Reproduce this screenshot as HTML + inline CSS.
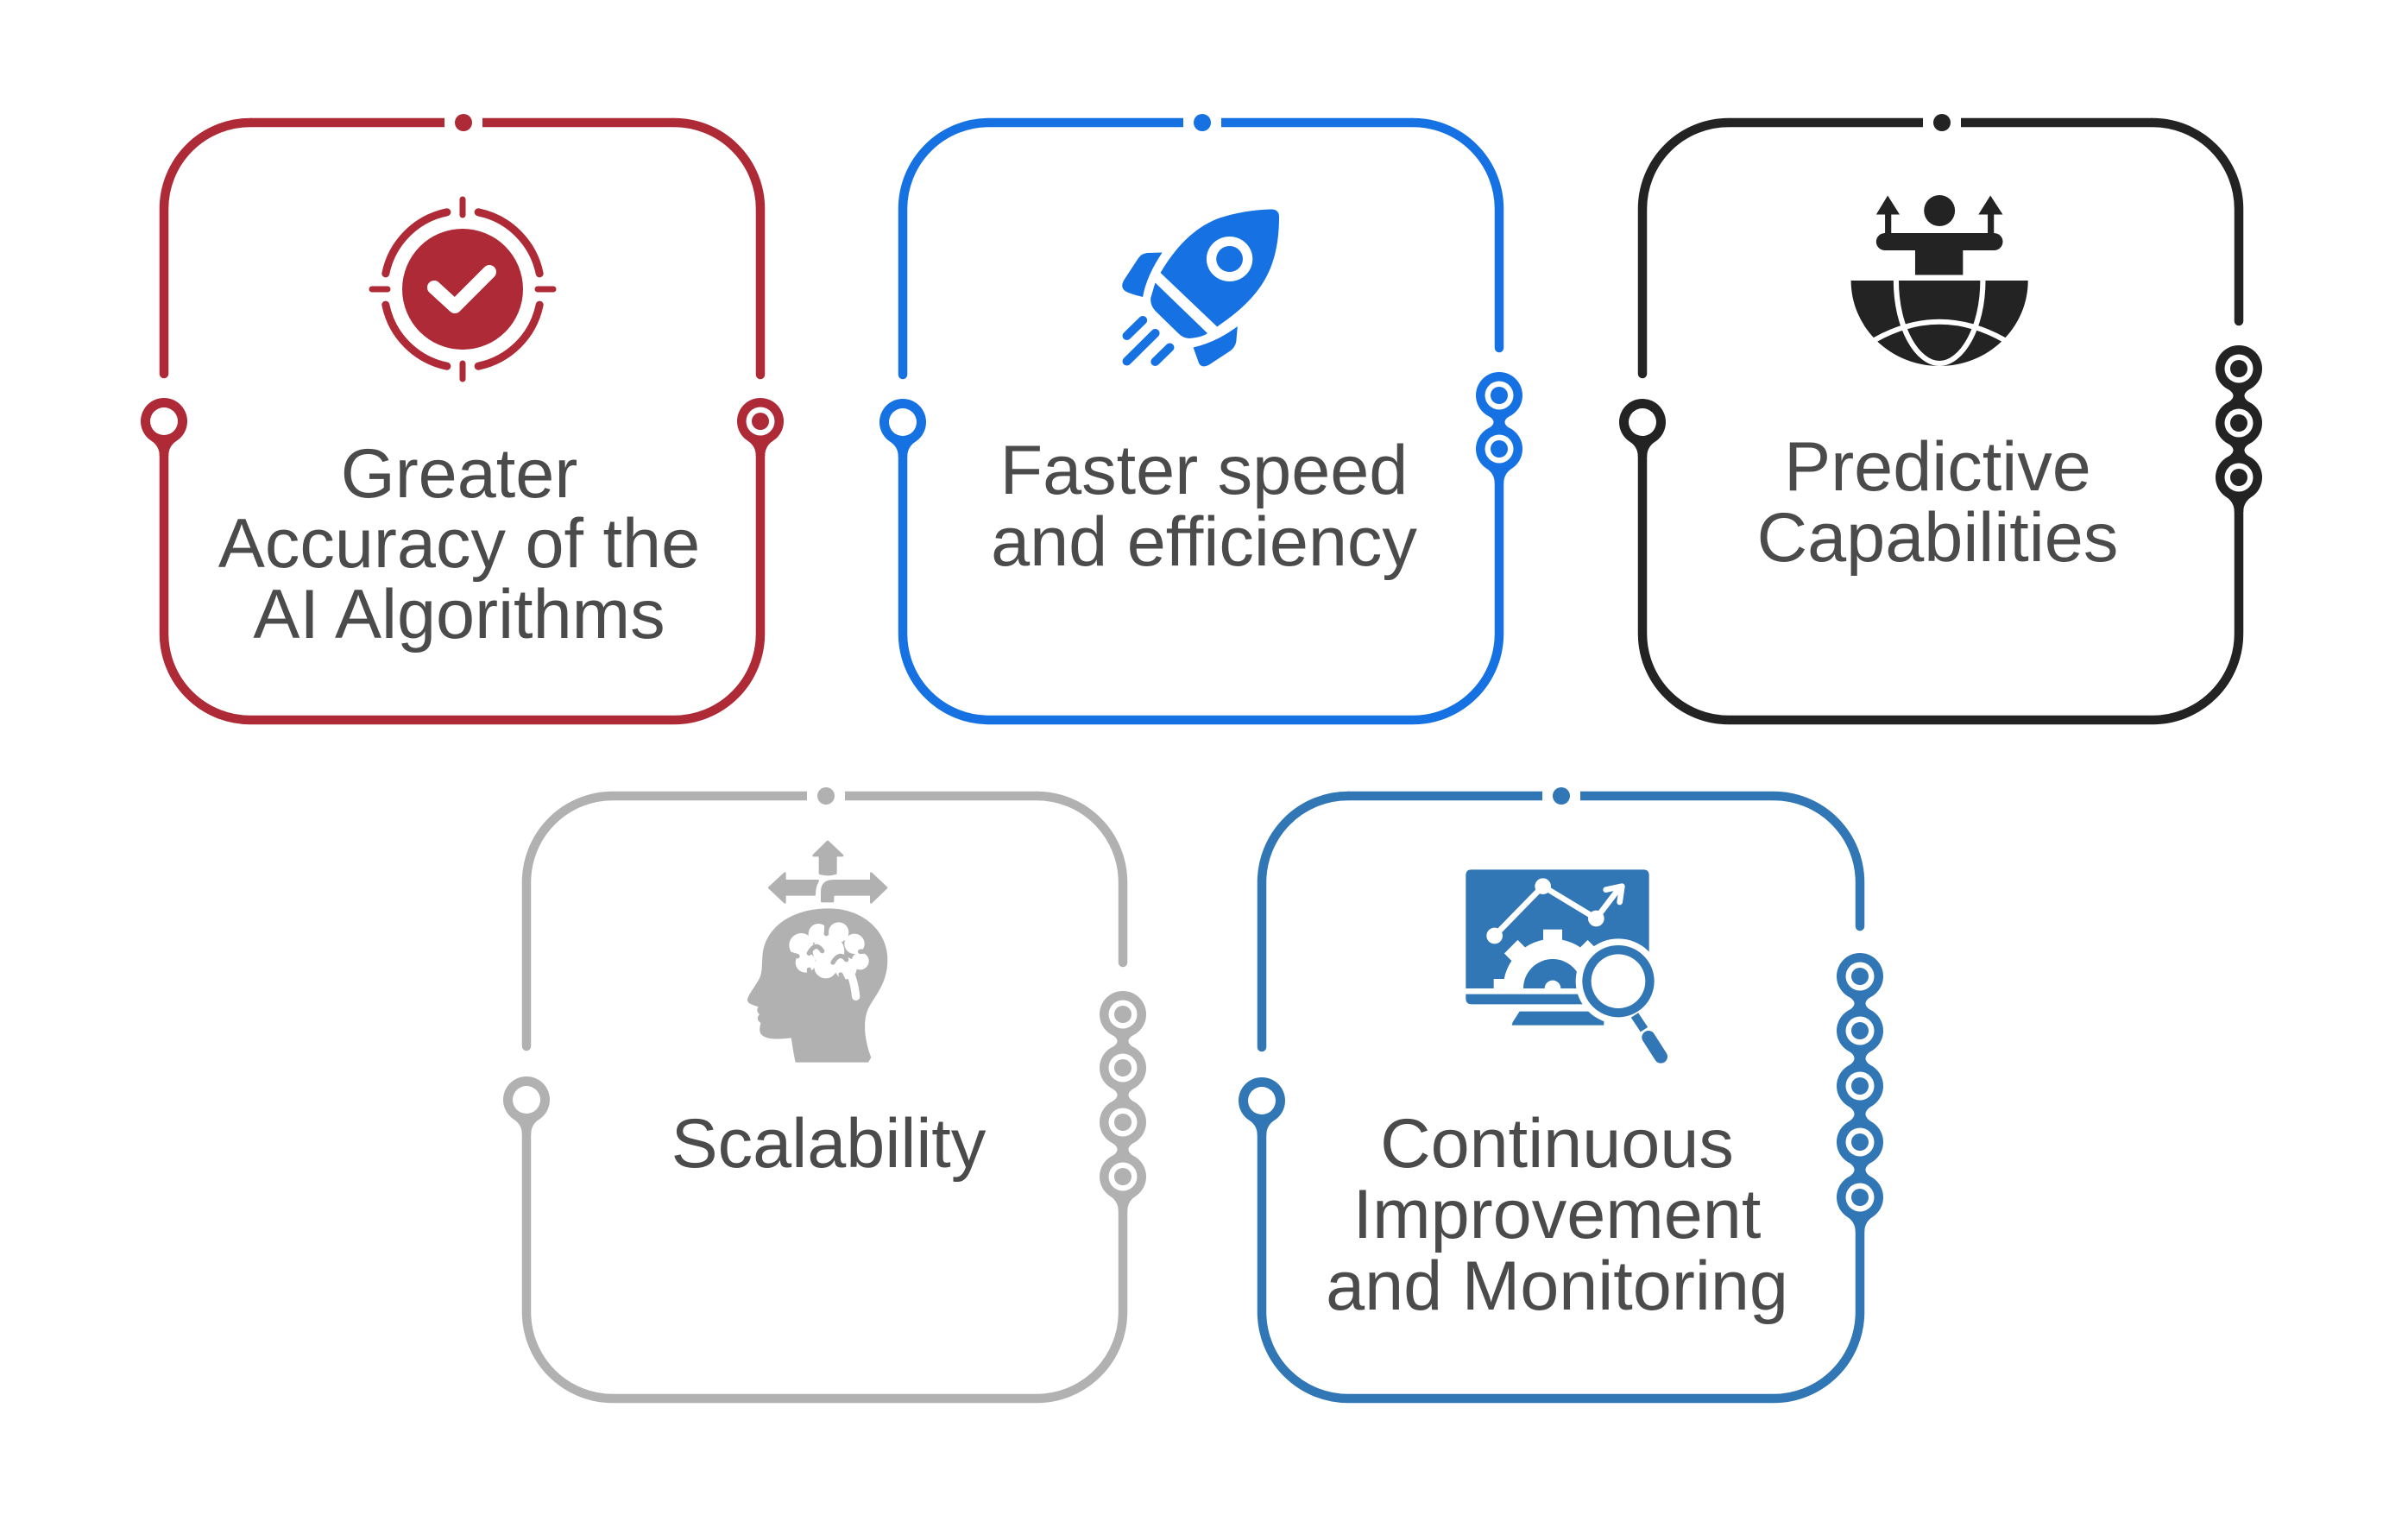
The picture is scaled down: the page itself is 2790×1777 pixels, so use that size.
<!DOCTYPE html>
<html>
<head>
<meta charset="utf-8">
<style>
  html, body { margin: 0; padding: 0; background: #ffffff; }
  body { width: 2790px; height: 1777px; overflow: hidden; }
  svg { display: block; }
  text { font-family: "Liberation Sans", "DejaVu Sans", sans-serif; font-size: 81px; fill: #4b4b4b; text-anchor: middle; }
</style>
</head>
<body>
<svg width="2790" height="1777" viewBox="0 0 2790 1777" xmlns="http://www.w3.org/2000/svg">
  <rect x="0" y="0" width="2790" height="1777" fill="#ffffff"/>

  <!-- ================= CARD 1 (red) ================= -->
  <g fill="none" stroke="#AE2A36" stroke-width="10.5">
    <path stroke-linecap="butt" d="M515,142H290M559,142H781"/>
    <path stroke-linecap="round" d="M290,142A100,100 0 0 0 190,242V433M781,142A100,100 0 0 1 881,242V434M881,488V734A100,100 0 0 1 781,834H290A100,100 0 0 1 190,734V488"/>
  </g>
  <g fill="#AE2A36">
    <circle cx="537" cy="142" r="10"/>
    <circle cx="190" cy="488" r="27"/>
    <path d="M175.5,510.8Q184.75,517 184.75,528H195.25Q195.25,517 204.5,510.8Z"/>
    <circle cx="881" cy="488" r="27"/>
    <path d="M866.5,510.8Q875.75,517 875.75,528H886.25Q886.25,517 895.5,510.8Z"/>
  </g>
  <circle cx="190" cy="488" r="16" fill="#fff"/>
  <circle cx="881" cy="488" r="16.5" fill="#fff"/>
  <circle cx="881" cy="488" r="10" fill="#AE2A36"/>
  <!-- icon 1 -->
  <circle cx="536" cy="335" r="70" fill="#AE2A36"/>
  <g fill="none" stroke="#AE2A36" stroke-width="9" stroke-linecap="round">
    <path d="M554.14,245.82A91,91 0 0 1 625.18,316.86"/>
    <path d="M625.18,353.14A91,91 0 0 1 554.14,424.18"/>
    <path d="M517.86,424.18A91,91 0 0 1 446.82,353.14"/>
    <path d="M446.82,316.86A91,91 0 0 1 517.86,245.82"/>
  </g>
  <g stroke="#AE2A36" stroke-width="7" stroke-linecap="round">
    <line x1="536" y1="231" x2="536" y2="249"/>
    <line x1="536" y1="421" x2="536" y2="439"/>
    <line x1="431" y1="335" x2="449" y2="335"/>
    <line x1="623" y1="335" x2="641" y2="335"/>
  </g>
  <polyline points="503,333 527,355 567,315" fill="none" stroke="#fff" stroke-width="16" stroke-linecap="round" stroke-linejoin="round"/>
  <text x="532" y="576">Greater</text>
  <text x="532" y="657">Accuracy of the</text>
  <text x="532" y="739">AI Algorithms</text>

  <!-- ================= CARD 2 (blue) ================= -->
  <g fill="none" stroke="#1671E3" stroke-width="10.5">
    <path stroke-linecap="butt" d="M1371,142H1146M1415,142H1637"/>
    <path stroke-linecap="round" d="M1146,142A100,100 0 0 0 1046,242V434M1637,142A100,100 0 0 1 1737,242V403M1737,520V734A100,100 0 0 1 1637,834H1146A100,100 0 0 1 1046,734V489"/>
  </g>
  <g fill="#1671E3">
    <circle cx="1393" cy="142" r="10"/>
    <circle cx="1046" cy="489" r="27"/>
    <path d="M1031.5,511.8Q1040.75,518 1040.75,529H1051.25Q1051.25,518 1060.5,511.8Z"/>
    <circle cx="1737" cy="458" r="27"/>
    <circle cx="1737" cy="520" r="27"/>
    <path d="M1721,479.75Q1740,489 1721,498.25H1753Q1734,489 1753,479.75Z"/>
    <path d="M1722.5,542.8Q1731.75,549 1731.75,560H1742.25Q1742.25,549 1751.5,542.8Z"/>
  </g>
  <circle cx="1046" cy="489" r="16" fill="#fff"/>
  <circle cx="1737" cy="458" r="16.5" fill="#fff"/>
  <circle cx="1737" cy="520" r="16.5" fill="#fff"/>
  <circle cx="1737" cy="458" r="10" fill="#1671E3"/>
  <circle cx="1737" cy="520" r="10" fill="#1671E3"/>
  <!-- icon 2 rocket -->
  <g transform="translate(1000,100) scale(0.5128,0.5)" fill="#1671E3">
    <path d="M672,432C705,375 745,330 800,307C850,289 900,285 925,285Q940,287 940,302C940,360 930,420 895,468C865,510 830,535 800,557Z"/>
    <ellipse cx="828" cy="400" rx="52" ry="52" fill="#fff"/>
    <ellipse cx="828" cy="400" rx="30" ry="30"/>
    <path d="M660,455L778,572Q768,581 737,584Q722,583 712,572L660,520Q648,506 650,490Z"/>
    <path d="M676,385L642,386Q630,387 622,398L590,448Q580,465 592,474Q600,480 632,488Q640,440 676,385Z"/>
    <path d="M846,556L843,592Q840,606 828,614L782,645Q766,654 759,642L746,605Q800,592 846,556Z"/>
    <path d="M596,578L632,542M596,637L660,572M660,638L693,605" fill="none" stroke="#1671E3" stroke-width="20" stroke-linecap="round"/>
  </g>
  <text x="1395" y="572">Faster speed</text>
  <text x="1395" y="655">and efficiency</text>

  <!-- ================= CARD 3 (black) ================= -->
  <g fill="none" stroke="#232323" stroke-width="10.5">
    <path stroke-linecap="butt" d="M2228,142H2003M2272,142H2494"/>
    <path stroke-linecap="round" d="M2003,142A100,100 0 0 0 1903,242V433M2494,142A100,100 0 0 1 2594,242V372M2594,553V734A100,100 0 0 1 2494,834H2003A100,100 0 0 1 1903,734V489"/>
  </g>
  <g fill="#232323">
    <circle cx="2250" cy="142" r="10"/>
    <circle cx="1903" cy="489" r="27"/>
    <path d="M1888.5,511.8Q1897.75,518 1897.75,529H1908.25Q1908.25,518 1917.5,511.8Z"/>
    <circle cx="2594" cy="427" r="27"/>
    <circle cx="2594" cy="490" r="27"/>
    <circle cx="2594" cy="553" r="27"/>
    <path d="M2578,448.75Q2597,458.5 2578,468.25H2610Q2591,458.5 2610,448.75Z"/>
    <path d="M2578,511.75Q2597,521.5 2578,531.25H2610Q2591,521.5 2610,511.75Z"/>
    <path d="M2579.5,575.8Q2588.75,582 2588.75,593H2599.25Q2599.25,582 2608.5,575.8Z"/>
  </g>
  <circle cx="1903" cy="489" r="16" fill="#fff"/>
  <g fill="#fff">
    <circle cx="2594" cy="427" r="16.5"/>
    <circle cx="2594" cy="490" r="16.5"/>
    <circle cx="2594" cy="553" r="16.5"/>
  </g>
  <g fill="#232323">
    <circle cx="2594" cy="427" r="10"/>
    <circle cx="2594" cy="490" r="10"/>
    <circle cx="2594" cy="553" r="10"/>
  </g>
  <!-- icon 3 -->
  <g transform="translate(1860,100) scale(0.5128,0.5)" fill="#232323">
    <ellipse cx="755" cy="288" rx="35" ry="36"/>
    <rect x="612" y="340" width="286" height="40" rx="20" ry="20"/>
    <rect x="700" y="375" width="108" height="62"/>
    <rect x="632" y="294" width="14" height="50"/>
    <polygon points="612,297 638,253 665,297"/>
    <rect x="864" y="294" width="14" height="50"/>
    <polygon points="843,297 870,253 898,297"/>
    <path d="M555,450H955A200,198 0 0 1 555,450Z"/>
    <path d="M657,450C657,560 705,642 755,642C805,642 853,560 853,450" fill="none" stroke="#fff" stroke-width="12"/>
    <path d="M608,588Q755,503 902,588" fill="none" stroke="#fff" stroke-width="12"/>
  </g>
  <text x="2245" y="568">Predictive</text>
  <text x="2245" y="650">Capabilities</text>

  <!-- ================= CARD 4 (gray) ================= -->
  <g fill="none" stroke="#B1B1B1" stroke-width="10.5">
    <path stroke-linecap="butt" d="M935,922H710M979,922H1201"/>
    <path stroke-linecap="round" d="M710,922A100,100 0 0 0 610,1022V1212M1201,922A100,100 0 0 1 1301,1022V1115M1301,1363V1520A100,100 0 0 1 1201,1620H710A100,100 0 0 1 610,1520V1274"/>
  </g>
  <g fill="#B1B1B1">
    <circle cx="957" cy="922" r="10"/>
    <circle cx="610" cy="1274" r="27"/>
    <path d="M595.5,1296.8Q604.75,1303 604.75,1314H615.25Q615.25,1303 624.5,1296.8Z"/>
    <circle cx="1301" cy="1175" r="27"/>
    <circle cx="1301" cy="1237" r="27"/>
    <circle cx="1301" cy="1300" r="27"/>
    <circle cx="1301" cy="1363" r="27"/>
    <path d="M1285,1196.75Q1304,1206 1285,1215.25H1317Q1298,1206 1317,1196.75Z"/>
    <path d="M1285,1258.75Q1304,1268.5 1285,1278.25H1317Q1298,1268.5 1317,1258.75Z"/>
    <path d="M1285,1321.75Q1304,1331.5 1285,1341.25H1317Q1298,1331.5 1317,1321.75Z"/>
    <path d="M1286.5,1385.8Q1295.75,1392 1295.75,1403H1306.25Q1306.25,1392 1315.5,1385.8Z"/>
  </g>
  <circle cx="610" cy="1274" r="16" fill="#fff"/>
  <g fill="#fff">
    <circle cx="1301" cy="1175" r="16.5"/>
    <circle cx="1301" cy="1237" r="16.5"/>
    <circle cx="1301" cy="1300" r="16.5"/>
    <circle cx="1301" cy="1363" r="16.5"/>
  </g>
  <g fill="#B1B1B1">
    <circle cx="1301" cy="1175" r="10"/>
    <circle cx="1301" cy="1237" r="10"/>
    <circle cx="1301" cy="1300" r="10"/>
    <circle cx="1301" cy="1363" r="10"/>
  </g>
  <!-- icon 4 head -->
  <g transform="translate(850,965) scale(0.33333)">
    <g fill="#B1B1B1" stroke="#B1B1B1" stroke-width="8" stroke-linejoin="round">
      <polygon points="278,78 327,30 378,78"/>
      <path d="M300,76H355V140Q330,148 300,140Z"/>
      <polygon points="124,190 178,140 178,241"/>
      <path d="M178,166H293Q281,186 281,214H178Z"/>
      <polygon points="531,190 478,140 478,241"/>
      <path d="M307,237V204Q307,166 348,166H478V214H352Q345,214 345,222V237Z"/>
    </g>
    <path fill="#B1B1B1" d="M100,430C105,330 200,262 330,262C455,262 535,345 535,440C535,525 490,565 468,610C448,655 455,720 478,780L468,797L215,797C208,765 204,735 200,712C165,716 118,720 98,702C86,690 92,670 94,660C82,652 80,640 90,630C80,622 80,612 86,604C70,598 46,594 48,578C52,558 80,528 92,500C100,480 98,455 100,430Z"/>
    <g fill="#fff">
      <circle cx="235" cy="390" r="42"/>
      <circle cx="295" cy="350" r="35"/>
      <circle cx="365" cy="345" r="35"/>
      <circle cx="420" cy="385" r="35"/>
      <circle cx="440" cy="445" r="30"/>
      <circle cx="390" cy="470" r="38"/>
      <circle cx="320" cy="465" r="40"/>
      <circle cx="250" cy="450" r="35"/>
      <circle cx="330" cy="410" r="55"/>
    </g>
    <path d="M405,485Q420,520 425,568" fill="none" stroke="#fff" stroke-width="28" stroke-linecap="round"/>
    <g fill="none" stroke="#B1B1B1" stroke-width="16" stroke-linecap="round">
      <path d="M262,418Q285,375 308,410"/>
      <path d="M345,450Q368,410 392,440"/>
      <path d="M325,305L322,350"/>
      <path d="M262,475L266,500"/>
      <path d="M196,420L222,428"/>
      <path d="M470,410L440,412"/>
      <path d="M382,512L372,492"/>
    </g>
  </g>
  <text x="960" y="1352">Scalability</text>

  <!-- ================= CARD 5 (steel blue) ================= -->
  <g fill="none" stroke="#3176B5" stroke-width="10.5">
    <path stroke-linecap="butt" d="M1787,922H1562M1831,922H2055"/>
    <path stroke-linecap="round" d="M1562,922A100,100 0 0 0 1462,1022V1213M2055,922A100,100 0 0 1 2155,1022V1073M2155,1387V1520A100,100 0 0 1 2055,1620H1562A100,100 0 0 1 1462,1520V1275"/>
  </g>
  <g fill="#3176B5">
    <circle cx="1809" cy="922" r="10"/>
    <circle cx="1462" cy="1275" r="27"/>
    <path d="M1447.5,1297.8Q1456.75,1304 1456.75,1315H1467.25Q1467.25,1304 1476.5,1297.8Z"/>
    <circle cx="2155" cy="1131" r="27"/>
    <circle cx="2155" cy="1194" r="27"/>
    <circle cx="2155" cy="1258" r="27"/>
    <circle cx="2155" cy="1323" r="27"/>
    <circle cx="2155" cy="1387" r="27"/>
    <path d="M2139,1152.75Q2158,1162.5 2139,1172.25H2171Q2152,1162.5 2171,1152.75Z"/>
    <path d="M2139,1215.75Q2158,1226 2139,1236.25H2171Q2152,1226 2171,1215.75Z"/>
    <path d="M2139,1279.75Q2158,1290.5 2139,1301.25H2171Q2152,1290.5 2171,1279.75Z"/>
    <path d="M2139,1344.75Q2158,1355 2139,1365.25H2171Q2152,1355 2171,1344.75Z"/>
    <path d="M2140.5,1409.8Q2149.75,1416 2149.75,1427H2160.25Q2160.25,1416 2169.5,1409.8Z"/>
  </g>
  <circle cx="1462" cy="1275" r="16" fill="#fff"/>
  <g fill="#fff">
    <circle cx="2155" cy="1131" r="16.5"/>
    <circle cx="2155" cy="1194" r="16.5"/>
    <circle cx="2155" cy="1258" r="16.5"/>
    <circle cx="2155" cy="1323" r="16.5"/>
    <circle cx="2155" cy="1387" r="16.5"/>
  </g>
  <g fill="#3176B5">
    <circle cx="2155" cy="1131" r="10"/>
    <circle cx="2155" cy="1194" r="10"/>
    <circle cx="2155" cy="1258" r="10"/>
    <circle cx="2155" cy="1323" r="10"/>
    <circle cx="2155" cy="1387" r="10"/>
  </g>
  <!-- icon 5 monitor -->
  <defs>
    <clipPath id="scrClip">
      <rect x="25" y="22" width="637" height="413"/>
    </clipPath>
  </defs>
  <g transform="translate(1690,1000) scale(0.33333)">
    <path fill="#3176B5" d="M45,22H642Q662,22 662,42V435H25V42Q25,22 45,22Z"/>
    <g clip-path="url(#scrClip)">
      <g fill="#fff" transform="translate(327,435)">
        <circle cx="0" cy="0" r="172"/>
        <rect x="-33" y="-205" width="66" height="60"/>
        <rect x="-33" y="-205" width="66" height="60" transform="rotate(45)"/>
        <rect x="-33" y="-205" width="66" height="60" transform="rotate(90)"/>
        <rect x="-33" y="-205" width="66" height="60" transform="rotate(-45)"/>
        <rect x="-33" y="-205" width="66" height="60" transform="rotate(-90)"/>
      </g>
      <circle cx="327" cy="435" r="102" fill="#3176B5"/>
      <circle cx="327" cy="435" r="28" fill="#fff"/>
    </g>
    <path fill="#3176B5" d="M25,455H480V490H45Q25,490 25,470Z"/>
    <polygon fill="#3176B5" points="212,515 470,515 505,540 505,563 185,563 188,552"/>
    <g fill="none" stroke="#fff" stroke-width="20" stroke-linecap="round" stroke-linejoin="round">
      <polyline points="125,252 293,80 478,192 562,82"/>
      <polyline points="512,92 568,80 560,135"/>
    </g>
    <g fill="#fff">
      <circle cx="125" cy="252" r="28"/>
      <circle cx="293" cy="80" r="28"/>
      <circle cx="478" cy="192" r="28"/>
    </g>
    <circle cx="555" cy="410" r="148" fill="#fff"/>
    <circle cx="555" cy="410" r="125" fill="#3176B5"/>
    <circle cx="555" cy="410" r="94" fill="#fff"/>
    <line x1="612" y1="528" x2="645" y2="578" stroke="#3176B5" stroke-width="30"/>
    <line x1="660" y1="605" x2="703" y2="672" stroke="#3176B5" stroke-width="46" stroke-linecap="round"/>
  </g>
  <text x="1804" y="1352">Continuous</text>
  <text x="1804" y="1434">Improvement</text>
  <text x="1804" y="1517">and Monitoring</text>
</svg>
</body>
</html>
